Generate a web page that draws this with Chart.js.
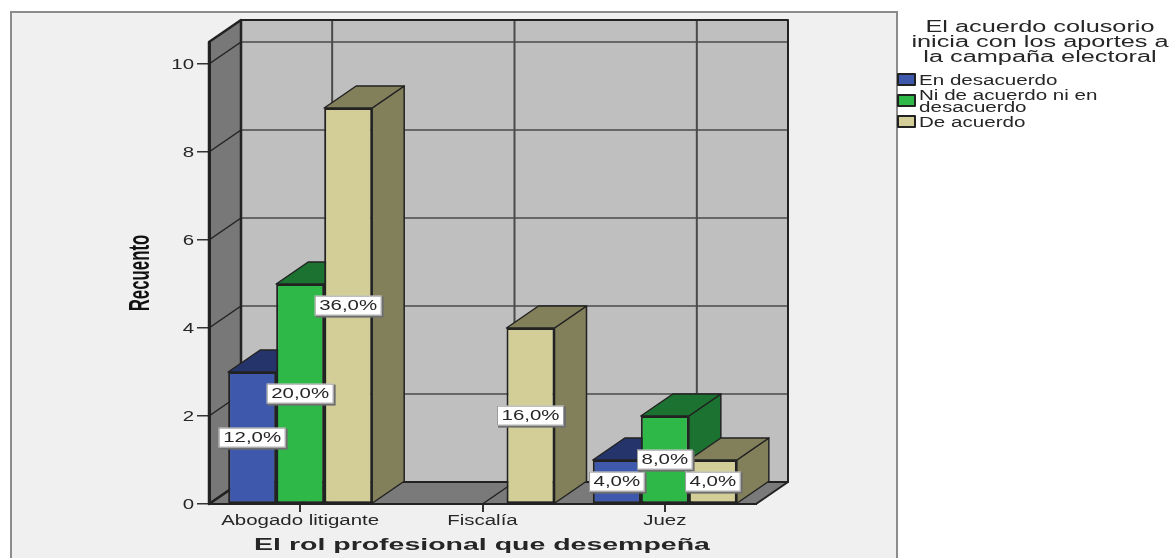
<!DOCTYPE html>
<html>
<head>
<meta charset="utf-8">
<title>El rol profesional que desempeña</title>
<script src="https://cdn.jsdelivr.net/npm/chart.js@4/dist/chart.umd.min.js"></script>
<style>
  html, body { margin: 0; padding: 0; background: #fff; overflow: hidden; }
  canvas { display: block; }
</style>
</head>
<body>
<canvas id="chart" width="1171" height="558"></canvas>
<script>
const categories = ['Abogado litigante', 'Fiscalía', 'Juez'];
const seriesNames = ['En desacuerdo', 'Ni de acuerdo ni en desacuerdo', 'De acuerdo'];
const enDesacuerdo = [3, 0, 1];
const niDeAcuerdo = [5, 0, 2];
const deAcuerdo = [9, 4, 1];
const enDesacuerdoPct = ['12,0%', null, '4,0%'];
const niDeAcuerdoPct = ['20,0%', null, '8,0%'];
const deAcuerdoPct = ['36,0%', '16,0%', '4,0%'];
const yTicks = [0, 2, 4, 6, 8, 10];
const xTitle = 'El rol profesional que desempeña';
const yTitle = 'Recuento';
const legendTitle = ['El acuerdo colusorio', 'inicia con los aportes a', 'la campaña electoral'];
const legendLines = [['En desacuerdo'], ['Ni de acuerdo ni en', 'desacuerdo'], ['De acuerdo']];

const frontColors = ['#3e58ac', '#2eb848', '#d3ce97'];
const shadeColors = ['#26346c', '#1c7230', '#827f5b'];
const percents = [enDesacuerdoPct, niDeAcuerdoPct, deAcuerdoPct];

const DEPTH_X = 32;
const DEPTH_Y = -22;
const LINE = '#222';
const TEXT = '#262626';

// the reference is a horizontally stretched picture, so text gets stretched as well
function drawText(ctx, text, x, y, font, sx, align = 'left') {
  ctx.save();
  ctx.translate(x, y);
  ctx.scale(sx, 1);
  ctx.font = font;
  ctx.fillStyle = TEXT;
  ctx.textAlign = align;
  ctx.textBaseline = 'middle';
  ctx.fillText(text, 0, 1);
  ctx.restore();
}

function polygon(ctx, points, fill, stroke, width) {
  ctx.beginPath();
  points.forEach((p, i) => (i ? ctx.lineTo(p[0], p[1]) : ctx.moveTo(p[0], p[1])));
  ctx.closePath();
  if (fill) {
    ctx.fillStyle = fill;
    ctx.fill();
  }
  if (stroke) {
    ctx.strokeStyle = stroke;
    ctx.lineWidth = width;
    ctx.lineJoin = 'round';
    ctx.stroke();
  }
}

function line(ctx, x1, y1, x2, y2, color, width) {
  ctx.beginPath();
  ctx.moveTo(x1, y1);
  ctx.lineTo(x2, y2);
  ctx.strokeStyle = color;
  ctx.lineWidth = width;
  ctx.stroke();
}

const box3d = {
  id: 'box3d',
  beforeDraw(chart) {
    const ctx = chart.ctx;
    ctx.save();
    ctx.fillStyle = '#f0f0f0';
    ctx.fillRect(11, 12, 886, 560);
    ctx.strokeStyle = '#8c8c8c';
    ctx.lineWidth = 2;
    ctx.strokeRect(11, 12, 886, 560);
    ctx.restore();
  },
  beforeDatasetsDraw(chart) {
    const ctx = chart.ctx;
    const area = chart.chartArea;
    const xs = chart.scales.x;
    const ys = chart.scales.y;
    const backL = area.left + DEPTH_X;
    const backR = area.right + DEPTH_X;
    const backT = area.top + DEPTH_Y;
    const backB = area.bottom + DEPTH_Y;

    ctx.save();
    polygon(ctx, [[backL, backT], [backR, backT], [backR, backB], [backL, backB]], '#bfbfbf');
    polygon(ctx, [[area.left, area.top], [backL, backT], [backL, backB], [area.left, area.bottom]], '#787878');
    polygon(ctx, [[area.left, area.bottom], [backL, backB], [backR, backB], [area.right, area.bottom]], '#7a7a7a');

    yTicks.forEach((value) => {
      const y = ys.getPixelForValue(value);
      line(ctx, area.left, y, backL, y + DEPTH_Y, LINE, 1.5);
      if (value > 0) line(ctx, backL, y + DEPTH_Y, backR, y + DEPTH_Y, '#4a4a4a', 1.5);
    });
    categories.forEach((name, i) => {
      const x = xs.getPixelForValue(i);
      line(ctx, x, area.bottom, x + DEPTH_X, backB, LINE, 1.5);
      line(ctx, x + DEPTH_X, backT, x + DEPTH_X, backB, '#4a4a4a', 2);
    });

    polygon(ctx, [[area.left, area.top], [backL, backT], [backL, backB], [area.left, area.bottom]], null, LINE, 2.5);
    polygon(ctx, [[backL, backT], [backR, backT], [backR, backB], [backL, backB]], null, LINE, 2);
    polygon(ctx, [[area.left, area.bottom], [backL, backB], [backR, backB], [area.right, area.bottom]], null, LINE, 2);

    // first series goes first so the later ones cover its side
    chart.data.datasets.forEach((dataset, d) => {
      chart.getDatasetMeta(d).data.forEach((bar, i) => {
        if (!dataset.data[i]) return;
        const half = bar.width / 2;
        const left = bar.x - half;
        const right = bar.x + half;
        polygon(ctx, [[right, bar.y], [right + DEPTH_X, bar.y + DEPTH_Y], [right + DEPTH_X, bar.base + DEPTH_Y], [right, bar.base]], shadeColors[d], LINE, 1.5);
        polygon(ctx, [[left, bar.y], [left + DEPTH_X, bar.y + DEPTH_Y], [right + DEPTH_X, bar.y + DEPTH_Y], [right, bar.y]], shadeColors[d], LINE, 1.5);
        bar.draw(ctx);
      });
    });
    ctx.restore();
    return false;
  },
  afterDraw(chart) {
    const ctx = chart.ctx;
    const area = chart.chartArea;
    const xs = chart.scales.x;
    const ys = chart.scales.y;
    const labelFont = '14px "Liberation Sans"';
    const stretch = 1.46;

    ctx.save();
    yTicks.forEach((value) => {
      drawText(ctx, String(value), area.left - 15, ys.getPixelForValue(value), labelFont, stretch, 'right');
    });
    categories.forEach((name, i) => {
      drawText(ctx, name, xs.getPixelForValue(i), area.bottom + 16, labelFont, stretch, 'center');
    });
    drawText(ctx, xTitle, 482, 545, 'bold 16px "Liberation Sans"', 1.78, 'center');

    // axis title, stretched along the screen x like the others
    ctx.save();
    ctx.translate(141, 273);
    ctx.scale(1.82, 1.05);
    ctx.rotate(-Math.PI / 2);
    ctx.font = 'bold 16px "Liberation Sans"';
    ctx.fillStyle = '#111';
    ctx.textAlign = 'center';
    ctx.textBaseline = 'middle';
    ctx.fillText(yTitle, 0, 0);
    ctx.restore();

    // percentage boxes
    percents.forEach((labels, d) => {
      chart.getDatasetMeta(d).data.forEach((bar, i) => {
        if (!labels[i]) return;
        const y = (bar.y + bar.base) / 2;
        ctx.font = labelFont;
        const w = ctx.measureText(labels[i]).width * stretch + 9;
        const h = 20;
        ctx.fillStyle = '#6e6e6e';
        ctx.fillRect(bar.x - w / 2 + 1, y - h / 2 + 1, w + 1, h + 1);
        ctx.fillStyle = '#fff';
        ctx.fillRect(bar.x - w / 2, y - h / 2, w, h);
        ctx.strokeStyle = '#9a9a9a';
        ctx.lineWidth = 1;
        ctx.strokeRect(bar.x - w / 2 + 0.5, y - h / 2 + 0.5, w - 1, h - 1);
        drawText(ctx, labels[i], bar.x, y, labelFont, stretch, 'center');
      });
    });

    // legend
    legendTitle.forEach((text, i) => {
      drawText(ctx, text, 1040, 27 + i * 15, '16px "Liberation Sans"', 1.58, 'center');
    });
    const swatchY = [74, 95, 116];
    legendLines.forEach((lines, i) => {
      polygon(ctx, [[898, swatchY[i]], [915, swatchY[i]], [915, swatchY[i] + 11], [898, swatchY[i] + 11]], frontColors[i], LINE, 2);
      const first = swatchY[i] + 6 - (lines.length - 1) * 6;
      lines.forEach((text, j) => {
        drawText(ctx, text, 919, first + j * 12, labelFont, 1.47);
      });
    });
    ctx.restore();
  },
};

new Chart(document.getElementById('chart'), {
  type: 'bar',
  data: {
    labels: categories,
    datasets: [enDesacuerdo, niDeAcuerdo, deAcuerdo].map((values, i) => ({
      label: seriesNames[i],
      data: values,
      backgroundColor: frontColors[i],
      borderColor: LINE,
      borderWidth: 2,
      borderSkipped: false,
      categoryPercentage: 0.79,
      barPercentage: 1,
    })),
  },
  options: {
    responsive: false,
    animation: false,
    events: [],
    layout: { padding: { top: 42, right: 415, left: 0, bottom: 0 } },
    plugins: { legend: { display: false }, tooltip: { enabled: false } },
    scales: {
      x: {
        grid: { offset: false, drawOnChartArea: false, tickLength: 8, color: '#333', lineWidth: 2 },
        border: { color: LINE, width: 2, z: 1 },
        ticks: { display: false },
        afterFit: (scale) => { scale.height = 54; },
      },
      y: {
        min: 0,
        max: 10.5,
        afterBuildTicks: (scale) => { scale.ticks = yTicks.map((value) => ({ value })); },
        grid: { drawOnChartArea: false, tickLength: 12, color: '#333', lineWidth: 1.5 },
        border: { color: LINE, width: 3, z: 1 },
        ticks: { display: false },
        afterFit: (scale) => { scale.width = 209; },
      },
    },
  },
  plugins: [box3d],
});
</script>
</body>
</html>
